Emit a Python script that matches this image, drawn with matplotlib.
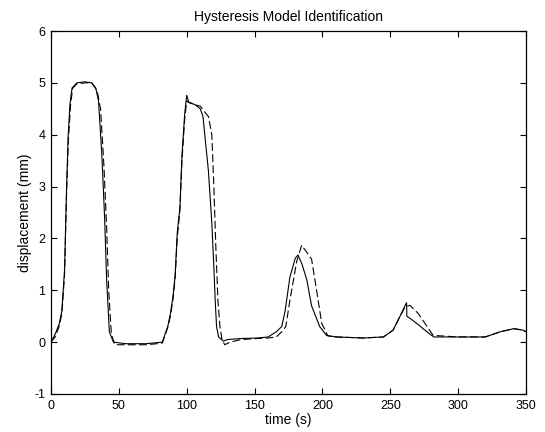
import matplotlib
matplotlib.use("Agg")
import matplotlib.pyplot as plt
from matplotlib.ticker import FuncFormatter

title = "Hysteresis Model Identification"
xlabel = "time (s)"
ylabel = "displacement (mm)"
xticks = [0, 50, 100, 150, 200, 250, 300, 350]
yticks = [-1, 0, 1, 2, 3, 4, 5, 6]

solid_t = [0, 3, 6, 8, 10, 11.5, 12.6, 14, 15.5, 19, 25, 30, 33, 35, 37.5,
           39.5, 41, 43, 46, 55, 70, 82, 86, 88, 90, 91.5, 93, 95, 96.5, 98.5,
           100, 101.5, 106, 110, 112, 113.5, 116, 118.5, 120, 121, 122, 123.5,
           127, 130, 140, 152, 160, 166, 170, 172.5, 176, 180, 182, 185, 188.5,
           192, 198, 203, 210, 230, 245, 252, 257, 261, 262, 262.2, 265, 270,
           277, 282, 300, 320, 331, 341, 348, 350]
solid_y = [0, 0.15, 0.35, 0.6, 1.4, 3.0, 3.95, 4.6, 4.9, 5.0, 5.02, 5.0, 4.9,
           4.65, 3.6, 2.4, 1.2, 0.2, 0.0, -0.03, -0.03, 0.0, 0.3, 0.55, 0.9,
           1.3, 2.1, 2.6, 3.6, 4.4, 4.76, 4.63, 4.58, 4.5, 4.35, 3.95, 3.3,
           2.3, 1.45, 0.8, 0.3, 0.1, 0.02, 0.05, 0.07, 0.08, 0.1, 0.2, 0.3,
           0.6, 1.25, 1.62, 1.68, 1.5, 1.2, 0.7, 0.3, 0.13, 0.1, 0.08, 0.1,
           0.23, 0.49, 0.71, 0.76, 0.5, 0.45, 0.35, 0.2, 0.1, 0.1, 0.1, 0.2,
           0.26, 0.23, 0.2]

dashed_t = [0, 3, 6, 8, 10, 11.5, 12.8, 14.5, 16, 19, 25, 30, 34, 36.5, 39,
            41, 42.5, 44.5, 47, 55, 70, 82, 86, 88, 90, 91.5, 93, 95, 96.5,
            98.5, 100, 101.5, 106, 110, 113, 116, 118.5, 120, 121.5, 123,
            124.5, 126, 128, 132, 140, 152, 160, 166, 170, 173, 176, 181,
            184.7, 188, 192, 196, 199.5, 204, 210, 230, 245, 252, 257, 261,
            264.5, 270.7, 275.6, 281.6, 300, 320, 331, 341, 348, 350]
dashed_y = [0.0, 0.1, 0.3, 0.55, 1.3, 2.9, 3.9, 4.6, 4.9, 4.98, 5.0, 5.0,
            4.85, 4.5, 3.4, 2.2, 1.0, 0.15, -0.05, -0.05, -0.05, -0.02, 0.28,
            0.5, 0.85, 1.25, 2.0, 2.55, 3.5, 4.3, 4.65, 4.62, 4.58, 4.55, 4.45,
            4.35, 4.0, 3.0, 1.8, 0.8, 0.3, 0.05, -0.05, 0.0, 0.05, 0.07, 0.08,
            0.1, 0.2, 0.3, 0.8, 1.55, 1.87, 1.75, 1.6, 0.95, 0.36, 0.12, 0.1,
            0.08, 0.1, 0.23, 0.49, 0.68, 0.71, 0.55, 0.36, 0.13, 0.1, 0.1, 0.2,
            0.26, 0.23, 0.2]

plt.rcParams['font.family'] = ['Liberation Sans', 'DejaVu Sans']

fig = plt.figure(figsize=(5.45, 4.32), dpi=100)
ax = fig.add_axes([51 / 545, 38 / 432, 475 / 545, 363 / 432])

ax.plot(solid_t, solid_y, color='black', linewidth=0.8, linestyle='-')
ax.plot(dashed_t, dashed_y, color='black', linewidth=0.8,
        linestyle=(0, (7, 3)))

ax.set_xlim(0, 350)
ax.set_ylim(-1, 6)
ax.set_xticks(xticks)
ax.set_yticks(yticks)
ax.yaxis.set_major_formatter(FuncFormatter(lambda v, p: "%d" % v))
ax.tick_params(direction='in', top=True, right=True, labelsize=9,
               length=4, width=0.8, pad=4)
for s in ax.spines.values():
    s.set_linewidth(0.9)
ax.set_title(title, fontsize=10, pad=7)
ax.set_xlabel(xlabel, fontsize=10, labelpad=1)
ax.set_ylabel(ylabel, fontsize=10, labelpad=2)

fig.savefig("out.png", dpi=100)
